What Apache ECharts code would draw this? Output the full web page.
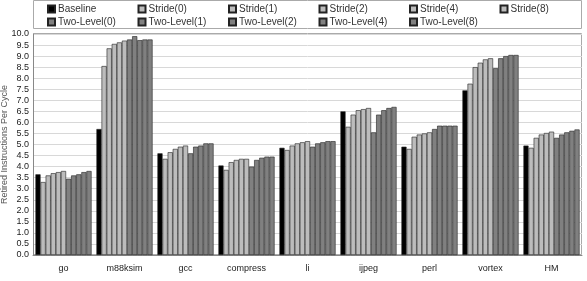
<!DOCTYPE html>
<html>
<head>
<meta charset="utf-8">
<script src="https://cdn.jsdelivr.net/npm/echarts@6/dist/echarts.min.js"></script>
<style>
  html, body { margin: 0; padding: 0; background: #fff; }
  #chart { width: 587px; height: 281px; }
</style>
</head>
<body>
<div id="chart"></div>
<script>
// 基准程序
const categories = ['go', 'm88ksim', 'gcc', 'compress', 'li', 'ijpeg', 'perl', 'vortex', 'HM'];
// 系列名
const seriesNames = ['Baseline', 'Stride(0)', 'Stride(1)', 'Stride(2)', 'Stride(4)', 'Stride(8)',
  'Two-Level(0)', 'Two-Level(1)', 'Two-Level(2)', 'Two-Level(4)', 'Two-Level(8)'];
// 每个系列的 IPC
const baseline   = [3.65, 5.7, 4.6, 4.05, 4.85, 6.5, 4.9, 7.45, 4.95];
const stride0    = [3.3, 8.55, 4.35, 3.85, 4.75, 5.8, 4.8, 7.75, 4.85];
const stride1    = [3.6, 9.35, 4.65, 4.2, 4.95, 6.35, 5.35, 8.5, 5.3];
const stride2    = [3.7, 9.55, 4.8, 4.3, 5.05, 6.55, 5.45, 8.7, 5.45];
const stride4    = [3.75, 9.62, 4.9, 4.35, 5.1, 6.6, 5.5, 8.85, 5.52];
const stride8    = [3.8, 9.7, 4.95, 4.35, 5.15, 6.65, 5.55, 8.9, 5.58];
const twoLevel0  = [3.45, 9.75, 4.6, 4.0, 4.9, 5.55, 5.7, 8.45, 5.3];
const twoLevel1  = [3.6, 9.9, 4.9, 4.3, 5.05, 6.35, 5.85, 8.9, 5.45];
const twoLevel2  = [3.65, 9.72, 4.95, 4.4, 5.1, 6.55, 5.85, 9.0, 5.55];
const twoLevel4  = [3.75, 9.75, 5.05, 4.45, 5.15, 6.65, 5.85, 9.05, 5.62];
const twoLevel8  = [3.8, 9.75, 5.05, 4.45, 5.15, 6.7, 5.85, 9.05, 5.68];
const allData = [baseline, stride0, stride1, stride2, stride4, stride8,
  twoLevel0, twoLevel1, twoLevel2, twoLevel4, twoLevel8];
const colors = ['#000000', '#bcbcbc', '#bcbcbc', '#bcbcbc', '#bcbcbc', '#bcbcbc',
  '#808080', '#808080', '#808080', '#808080', '#808080'];

const FONT = 'Liberation Sans';
const myChart = echarts.init(document.getElementById('chart'));

// 图例：两行，每列固定位置
const legends = seriesNames.map((name, i) => {
  const row = i < 6 ? 0 : 1;
  const col = i < 6 ? i : i - 6;
  return {
    data: [name],
    left: 47 + col * 90.5,
    top: row === 0 ? 4 : 17,
    itemWidth: 7,
    itemHeight: 7,
    itemGap: 4,
    padding: 0,
    icon: 'rect',
    textStyle: { fontSize: 10, color: '#333', fontFamily: FONT, padding: [0, 0, 0, -2] }
  };
});

const option = {
  animation: false,
  color: colors,
  legend: legends,
  graphic: [{
    type: 'rect',
    shape: { x: 33.5, y: 0.5, width: 548, height: 28 },
    style: { fill: 'none', stroke: '#aaa', lineWidth: 1 }
  }, {
    type: 'rect',
    shape: { x: 33.5, y: 33.5, width: 548, height: 221 },
    style: { fill: 'none', stroke: '#aaa', lineWidth: 1 },
    z: -1
  }],
  grid: { left: 33, right: 5, top: 34, bottom: 26, containLabel: false, outerBoundsMode: 'none' },
  xAxis: {
    type: 'category',
    data: categories,
    axisTick: { show: false },
    axisLine: { lineStyle: { color: '#888' } },
    axisLabel: { fontSize: 9, color: '#222', margin: 9, fontFamily: FONT }
  },
  yAxis: {
    type: 'value',
    min: 0,
    max: 10,
    interval: 0.5,
    name: 'Retired Instructions Per Cycle',
    nameLocation: 'middle',
    nameGap: 24,
    nameMoveOverlap: false,
    nameTextStyle: { fontSize: 9, color: '#555', fontFamily: FONT },
    axisLine: { show: true, lineStyle: { color: '#888' } },
    axisTick: { show: false },
    splitLine: { lineStyle: { color: '#d8d8d8' } },
    axisLabel: {
      fontSize: 9, color: '#222', margin: 4, fontFamily: FONT,
      formatter: v => v.toFixed(1)
    }
  },
  series: seriesNames.map((name, i) => ({
    name: name,
    type: 'bar',
    data: allData[i],
    barGap: '0%',
    barCategoryGap: '8%',
    itemStyle: { color: colors[i], borderColor: '#222', borderWidth: 0.6 }
  }))
};

myChart.setOption(option);
</script>
</body>
</html>
